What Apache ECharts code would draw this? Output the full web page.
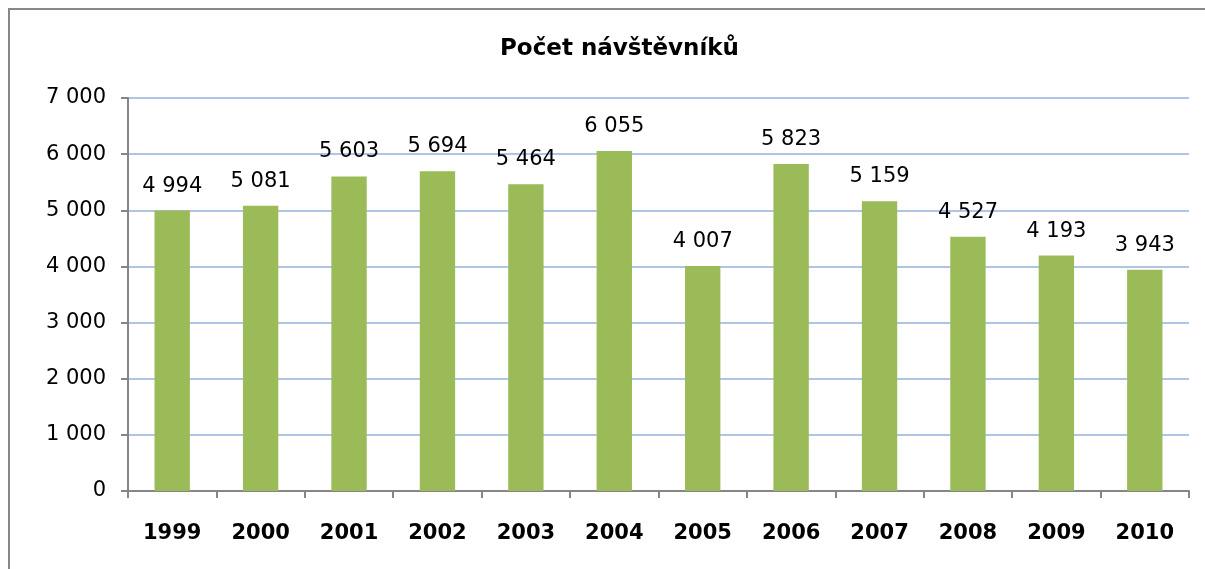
<!DOCTYPE html>
<html><head><meta charset="utf-8">
<script src="https://cdn.jsdelivr.net/npm/echarts@6/dist/echarts.min.js"></script>
<style>html,body{margin:0;padding:0;background:#fff}#c{width:1205px;height:569px}</style>
</head><body><div id="c"></div>
<script>
const title = 'Počet návštěvníků';
const categories = ['1999','2000','2001','2002','2003','2004','2005','2006','2007','2008','2009','2010'];
const visitors = [4994, 5081, 5603, 5694, 5464, 6055, 4007, 5823, 5159, 4527, 4193, 3943];
const fmt = v => String(v).replace(/\B(?=(\d{3})+(?!\d))/g, ' ');
const FONT = 'DejaVu Sans';
const chart = echarts.init(document.getElementById('c'));
chart.setOption({
  animation: false,
  backgroundColor: '#fff',
  title: { text: title, left: 495, top: 33, textStyle: { fontFamily: FONT, fontWeight: 'bold', fontSize: 23, color: '#000' } },
  graphic: [{ type: 'rect', shape: { x: 9, y: 9, width: 1300, height: 700 }, style: { fill: 'none', stroke: '#888', lineWidth: 2 }, silent: true }],
  grid: { left: 128, right: 16, top: 98, bottom: 78 },
  xAxis: {
    type: 'category', data: categories,
    axisLine: { lineStyle: { color: '#868686', width: 2 } },
    axisTick: { show: true, length: 7, lineStyle: { color: '#868686', width: 2 } },
    axisLabel: { fontFamily: FONT, fontWeight: 'bold', fontSize: 21, color: '#000', margin: 32 }
  },
  yAxis: {
    type: 'value', min: 0, max: 7000, interval: 1000,
    axisLine: { show: true, lineStyle: { color: '#868686', width: 2 } },
    axisTick: { show: true, length: 7, lineStyle: { color: '#868686', width: 2 } },
    splitLine: { lineStyle: { color: '#b0c4e6', width: 2 } },
    axisLabel: { fontFamily: FONT, fontSize: 21, color: '#000', margin: 22, formatter: v => fmt(v) }
  },
  series: [{
    type: 'bar', data: visitors, barWidth: '40%',
    itemStyle: { color: '#9BBB59' },
    label: { show: true, position: 'top', distance: 14, fontFamily: FONT, fontSize: 21, color: '#000', formatter: p => fmt(p.value) }
  }]
});
</script></body></html>
